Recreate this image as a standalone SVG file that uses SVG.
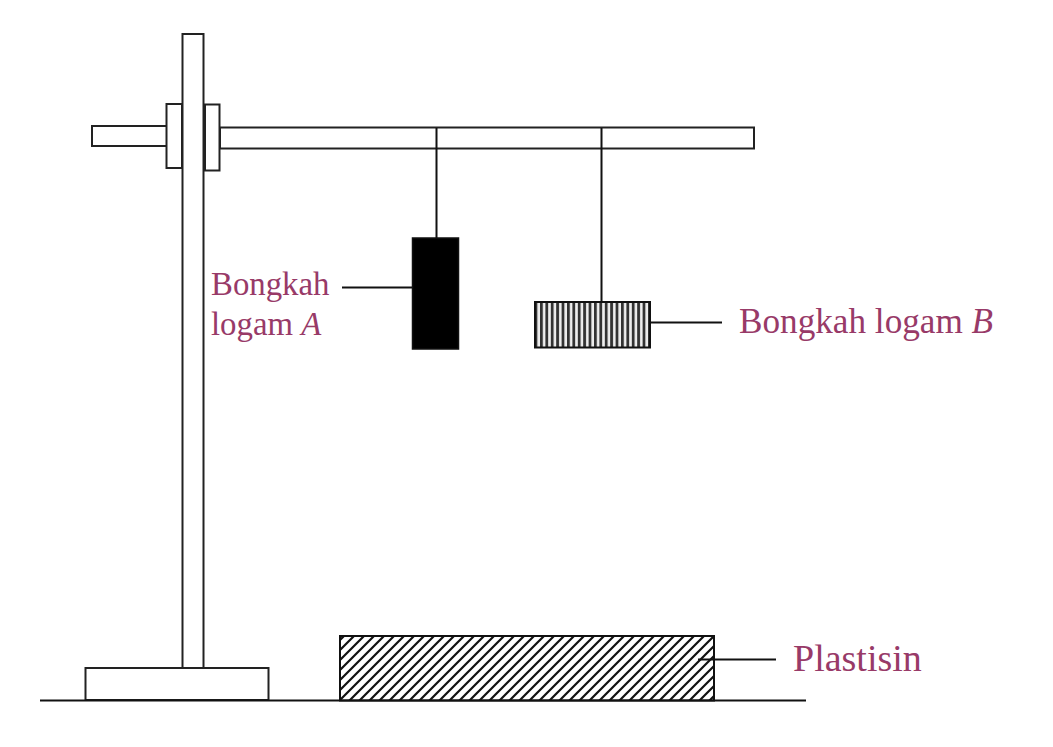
<svg xmlns="http://www.w3.org/2000/svg" width="1053" height="747" viewBox="0 0 1053 747">
<style>
.s{fill:#fff;stroke:#222;stroke-width:2}
.l{fill:none;stroke:#111;stroke-width:2}
.t{font-family:"Liberation Serif","Times New Roman",serif;fill:#983a68;font-size:32.800px}
</style>
<defs>
<pattern id="vert" patternUnits="userSpaceOnUse" width="5.400" height="10"><rect width="5.400" height="10" fill="#eee"/><rect width="2.800" height="10" fill="#333"/></pattern>
<pattern id="diag" patternUnits="userSpaceOnUse" width="10" height="10"><rect width="10" height="10" fill="#fff"/><path d="M-2 12L12 -2M-7 7L7 -7M3 17L17 3" stroke="#111" stroke-width="2.200"/></pattern>
</defs>
<rect width="1053" height="747" fill="#fff"/>
<g id="stand">
<rect class="s" x="92" y="126" width="75" height="20"/>
<rect class="s" x="220" y="127.500" width="534" height="21"/>
<rect class="s" x="166.500" y="104" width="15.500" height="64"/>
<rect class="s" x="205" y="104.500" width="14.500" height="66"/>
<rect class="s" x="182.500" y="34" width="21" height="634"/>
<rect class="s" x="85.500" y="668" width="183" height="32"/>
</g>
<g id="block-a"><rect x="412.500" y="238" width="46" height="111" fill="#000" stroke="#111" stroke-width="1.500"/></g>
<g id="block-b"><rect x="535" y="302" width="115" height="45.500" fill="url(#vert)" stroke="#111" stroke-width="2"/></g>
<g id="plastisin"><rect x="340" y="636" width="374" height="64.500" fill="url(#diag)" stroke="#111" stroke-width="2"/></g>
<g id="connectors">
<path class="l" d="M40 700.500H806"/>
<path class="l" d="M436.500 128V238M601.500 128V302"/>
<path class="l" d="M342 287.500H413M650 322.500H722M698 659.500H776"/>
</g>
<g id="labels">
<text class="t" x="211" y="295">Bongkah</text>
<text class="t" x="211" y="335">logam <tspan font-style="italic">A</tspan></text>
<text class="t" x="739" y="333" style="font-size:35.200px">Bongkah logam <tspan font-style="italic">B</tspan></text>
<text class="t" x="793" y="670.500" style="font-size:38px">Plastisin</text>
</g>
</svg>
